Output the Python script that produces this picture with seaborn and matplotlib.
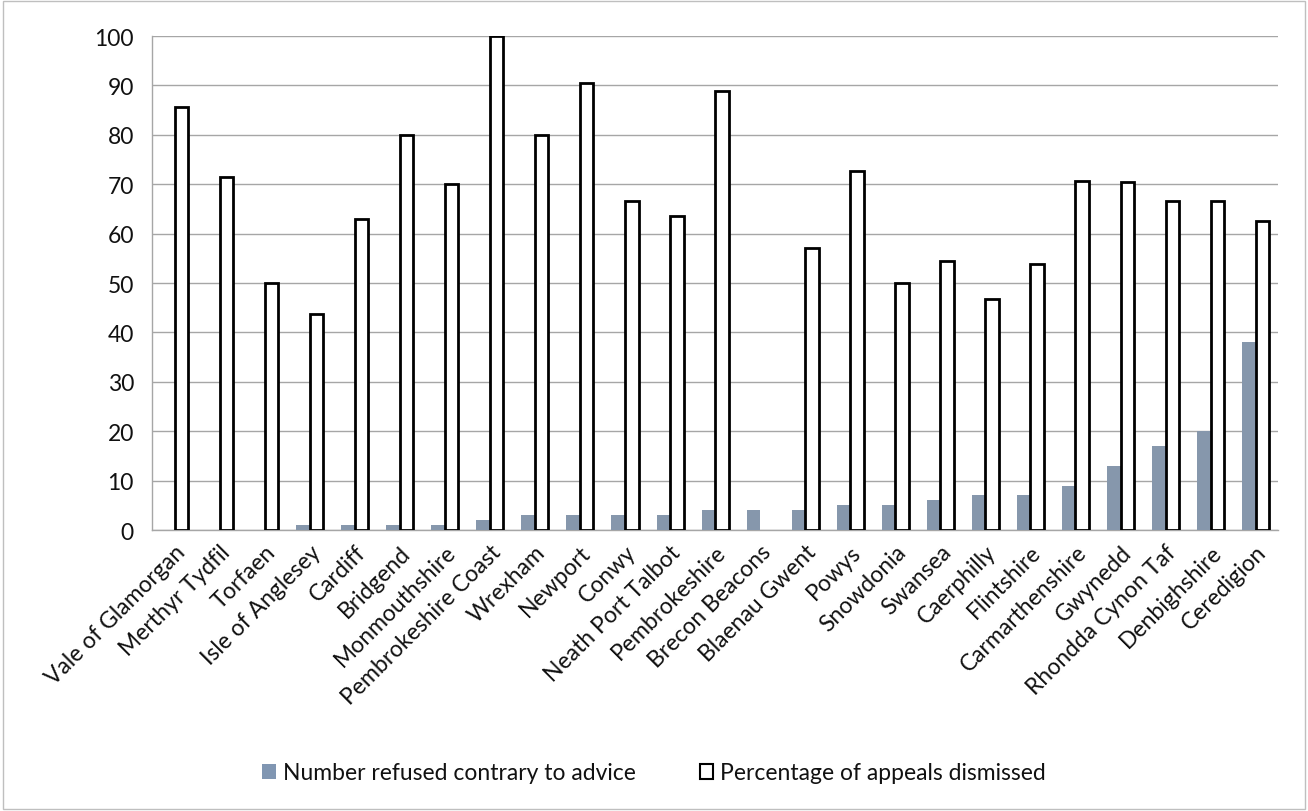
import numpy as np
import pandas as pd
import matplotlib
matplotlib.use("Agg")
import matplotlib.pyplot as plt
from matplotlib.patches import Patch, Rectangle
import seaborn as sns

areas = [
    "Vale of Glamorgan", "Merthyr Tydfil", "Torfaen", "Isle of Anglesey", "Cardiff",
    "Bridgend", "Monmouthshire", "Pembrokeshire Coast", "Wrexham", "Newport",
    "Conwy", "Neath Port Talbot", "Pembrokeshire", "Brecon Beacons", "Blaenau Gwent",
    "Powys", "Snowdonia", "Swansea", "Caerphilly", "Flintshire",
    "Carmarthenshire", "Gwynedd", "Rhondda Cynon Taf", "Denbighshire", "Ceredigion",
]
refused = [0, 0, 0, 1, 1, 1, 1, 2, 3, 3, 3, 3, 4, 4, 4, 5, 5, 6, 7, 7, 9, 13, 17, 20, 38]
dismissed = [85.7, 71.4, 50.0, 43.8, 62.9, 80.0, 70.0, 100.0, 80.0, 90.5,
             66.7, 63.6, 88.9, np.nan, 57.1, 72.7, 50.0, 54.5, 46.7, 53.8,
             70.6, 70.4, 66.7, 66.7, 62.5]
series_names = ["Number refused contrary to advice", "Percentage of appeals dismissed"]
y_ticks = [0, 10, 20, 30, 40, 50, 60, 70, 80, 90, 100]

df = pd.concat([
    pd.DataFrame({"area": areas, "series": series_names[0], "value": refused}),
    pd.DataFrame({"area": areas, "series": series_names[1], "value": dismissed}),
], ignore_index=True)

sns.set_style("white")
plt.rcParams["font.family"] = ["Lato", "DejaVu Sans"]

fig = plt.figure(figsize=(13.08, 8.12), dpi=100)
ax = fig.add_axes([0.1162, 0.346, 0.861, 0.6084])

blue = "#8096b2"
sns.barplot(data=df, x="area", y="value", hue="series", order=areas,
            hue_order=series_names, palette={series_names[0]: blue, series_names[1]: "white"},
            width=0.6, dodge=True, errorbar=None, legend=False, ax=ax, zorder=3)

for bar in ax.containers[0]:
    bar.set_edgecolor("none")
for bar in ax.containers[1]:
    bar.set_edgecolor("black")
    bar.set_linewidth(2.0)

ax.set_ylim(0, 100)
ax.set_xlim(-0.5, len(areas) - 0.5)
ax.set_yticks(y_ticks)
ax.yaxis.grid(True, color="#a6a6a6", linewidth=1.0, zorder=0)
ax.set_axisbelow(True)
ax.set_xlabel("")
ax.set_ylabel("")

ax.set_xticks(range(len(areas)))
ax.set_xticklabels(areas, rotation=45, ha="right", rotation_mode="anchor", fontsize=16.5, color="#111111")
ax.set_xticks(np.arange(-0.5, len(areas), 1.0), minor=True)
ax.tick_params(axis="x", which="major", length=0, pad=8)
ax.tick_params(axis="x", which="minor", length=6, color="#a6a6a6", width=1.0, direction="out")
ax.tick_params(axis="y", length=7, color="#a6a6a6", width=1.0, direction="out", labelsize=16.5,
               labelcolor="#111111", pad=6)

for side in ["top", "right"]:
    ax.spines[side].set_visible(False)
for side in ["left", "bottom"]:
    ax.spines[side].set_color("#a6a6a6")
    ax.spines[side].set_linewidth(1.0)

handles = [Patch(facecolor=blue, edgecolor="none", label=series_names[0]),
           Patch(facecolor="white", edgecolor="black", linewidth=1.5, label=series_names[1])]
fig.legend(handles=handles, loc="center", bbox_to_anchor=(0.5, 0.047), ncol=2, frameon=False,
           fontsize=16.5, handlelength=0.6, handleheight=0.6, handletextpad=0.3, columnspacing=2.8,
           labelcolor="#111111")

fig.patches.append(Rectangle((0.002, 0.002), 0.996, 0.996, transform=fig.transFigure,
                             fill=False, edgecolor="#bfbfbf", linewidth=1.0))

fig.savefig("out.png", dpi=100)
